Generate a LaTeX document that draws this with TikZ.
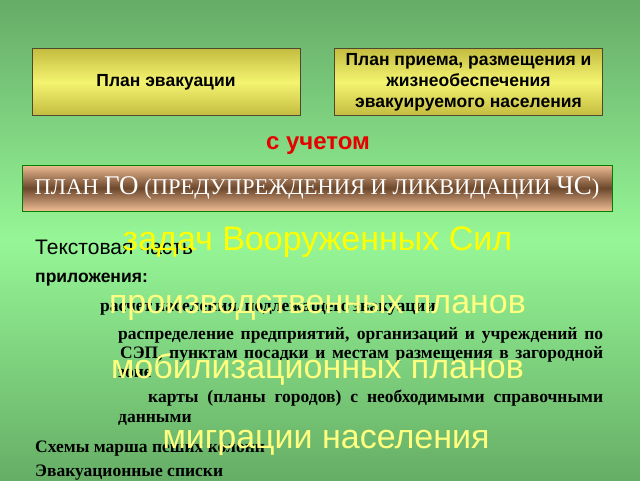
\documentclass[tikz,border=0pt]{standalone}
\usepackage{fontspec}
\setmainfont{Liberation Serif}
\newfontfamily\arialfont{Liberation Sans}
\usetikzlibrary{positioning}
\definecolor{bgtop}{RGB}{102,172,104}
\definecolor{bgmid}{RGB}{150,246,150}
\definecolor{bgbot}{RGB}{102,174,102}
\definecolor{planyellow}{RGB}{244,244,112}
\definecolor{planolive}{RGB}{196,188,64}
\definecolor{gobrown}{RGB}{108,72,44}
\definecolor{gopeach}{RGB}{238,188,148}
\definecolor{uchetred}{RGB}{230,0,0}
\definecolor{goalyellow}{RGB}{255,255,0}
\definecolor{paleyellow}{RGB}{255,255,128}

\begin{document}
\begin{tikzpicture}[x=1pt, y=-1pt]
\tikzstyle{planbox}=[draw=black!60!olive, top color=planolive, bottom color=planolive, middle color=planyellow, minimum width=268pt, minimum height=67pt, inner sep=0pt, align=center, text=black, font=\arialfont\bfseries\fontsize{17.5}{21}\selectfont]
\tikzstyle{gobox}=[draw=black!50!green, top color=gopeach, bottom color=gopeach, middle color=gobrown, minimum width=590pt, minimum height=46pt, inner sep=0pt, text=white, font=\fontsize{22.5}{22}\selectfont]
\tikzstyle{textline}=[anchor=base west, inner sep=0pt, text=black, font=\bfseries\fontsize{17.5}{18}\selectfont]
\tikzstyle{taskline}=[anchor=base, inner sep=0pt, text=paleyellow, font=\arialfont\fontsize{34}{34}\selectfont]
%%
\useasboundingbox (0,0) rectangle (640,480);
\shade[top color=bgtop, bottom color=bgbot, middle color=bgmid] (0,0) rectangle (640,480);

\node (evac) at (166,82) [planbox] {План эвакуации};
\node (recv) at (468.5,82) [planbox] {План приема, размещения и\\жизнеобеспечения\\эвакуируемого населения};
\node (uchet) at (318,146) [font=\arialfont\bfseries\fontsize{24}{24}\selectfont, text=uchetred] {с учетом};
\node (plango) at (317,188) [gobox] {ПЛАН {\fontsize{27}{27}\selectfont ГО} (ПРЕДУПРЕЖДЕНИЯ И ЛИКВИДАЦИИ {\fontsize{27}{27}\selectfont ЧС})};

%% text part
\node (t01) at (35,254) [textline, font=\arialfont\fontsize{21}{22}\selectfont] {Текстовая часть};
\node (t02) at (35,282) [textline, font=\arialfont\bfseries\fontsize{17.5}{18}\selectfont] {приложения:};
\node (t11) at (100,311) [textline] {\makebox[278pt][s]{расчет населения, подлежащего эвакуации}};
\node (t12) at (118,339) [textline] {\makebox[485pt][s]{распределение предприятий, организаций и учреждений по}};
\node (t13) at (120,358) [textline] {\makebox[483pt][s]{СЭП, пунктам посадки и местам размещения в загородной}};
\node (t14) at (118,377) [textline] {зоне};
\node (t15) at (148,402) [textline] {\makebox[455pt][s]{карты (планы городов) с необходимыми справочными}};
\node (t16) at (118,422) [textline] {данными};
\node (t21) at (35,452) [textline] {Схемы марша пеших колонн};
\node (t22) at (35,476) [textline] {Эвакуационные списки};

%% overlaid tasks
\node (k1) at (317.5,250) [taskline, text=goalyellow] {задач Вооруженных Сил};
\node (k2) at (317.5,313) [taskline] {производственных планов};
\node (k3) at (317.5,378) [taskline] {мобилизационных планов};
\node (k4) at (326,448) [taskline] {миграции населения};
\end{tikzpicture}
\end{document}
